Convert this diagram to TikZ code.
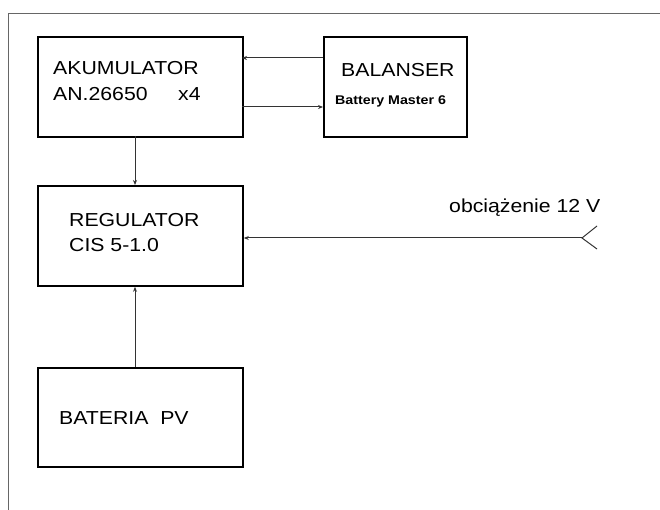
\documentclass[tikz,border=0pt]{standalone}
\usepackage{fontspec}
\setmainfont[FakeStretch=1.13]{Liberation Sans}
\usetikzlibrary{arrows.meta}
\begin{document}
\begin{tikzpicture}[x=1pt,y=-1pt,
  blok/.style={draw=black,line width=1.8pt,inner sep=0pt,anchor=north west},
  txt/.style={anchor=base west,inner sep=0pt,font=\fontsize{18.8}{20}\selectfont},
  small/.style={anchor=base west,inner sep=0pt,font=\fontsize{12.6}{14}\selectfont\bfseries},
  conn/.style={draw=black!80,line width=1pt,-{Stealth[length=5pt,width=4pt]}},
  frame/.style={draw=black!60,line width=0.8pt}]
\useasboundingbox (0,0) rectangle (660,510);
\fill[white] (0,0) rectangle (660,510);
\draw[frame] (8,510) -- (8,13) -- (660,13);
% boxes
\node[blok,minimum width=205pt,minimum height=100pt] (aku) at (37,36) {};
\node[blok,minimum width=143pt,minimum height=100pt] (bal) at (323,36) {};
\node[blok,minimum width=205pt,minimum height=100pt] (reg) at (37,185) {};
\node[blok,minimum width=205pt,minimum height=99pt] (pv) at (37,367) {};
% texts
\node[txt] (t1) at (53,75) {AKUMULATOR};
\node[txt] (t2) at (53,100.5) {AN.26650};
\node[txt] (t3) at (178,100.5) {x4};
\node[txt] (t4) at (341,76.5) {BALANSER};
\node[small] (t5) at (335,105) {Battery Master 6};
\node[txt] (t6) at (69,226.5) {REGULATOR};
\node[txt] (t7) at (69,251.5) {CIS 5-1.0};
\node[txt] (t8) at (449,213) {obciążenie 12 V};
\node[txt] (t9) at (59,424) {BATERIA\ \ PV};
% connectors
\coordinate (a1) at (242,58);
\coordinate (a2) at (242,107);
\draw[conn] (bal.west|-a1) -- (a1);
\draw[conn] (a2) -- (bal.west|-a2);
\coordinate (v1) at (135,136);
\draw[conn] (v1) -- (v1|-reg.north);
\coordinate (v2) at (135,367);
\draw[conn] (v2) -- (v2|-reg.south);
\coordinate (load) at (582,238);
\coordinate (lu) at (597,226);
\coordinate (ld) at (597,249);
\draw[conn] (load) -- (reg.east|-load);
\draw[draw=black!80,line width=1pt] (lu) -- (load) -- (ld);
\end{tikzpicture}
\end{document}
